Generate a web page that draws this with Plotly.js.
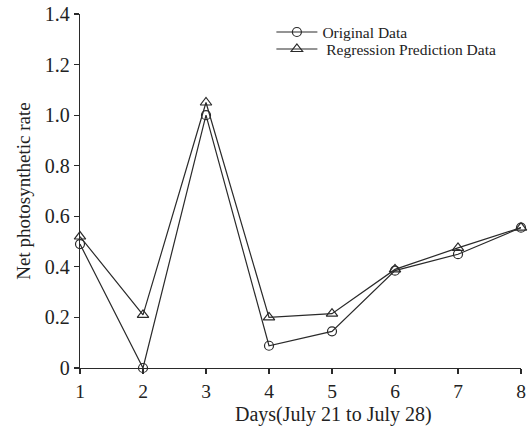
<!DOCTYPE html>
<html><head><meta charset="utf-8">
<script src="https://cdn.plot.ly/plotly-3.0.1.min.js"></script>
<style>body{margin:0;background:#fff}#c{width:532px;height:427px}</style>
</head><body><div id="c"></div>
<script>
const days = [1, 2, 3, 4, 5, 6, 7, 8];
const originalData = [0.49, 0.0, 1.0, 0.088, 0.145, 0.385, 0.45, 0.555];
const regressionData = [0.52, 0.21, 1.05, 0.2, 0.215, 0.39, 0.475, 0.555];
const yTickVals = [0, 0.2, 0.4, 0.6, 0.8, 1.0, 1.2, 1.4];
const yTickText = ["0", "0.2", "0.4", "0.6", "0.8", "1.0", "1.2", "1.4"];
const xTickVals = [1, 2, 3, 4, 5, 6, 7, 8];
const xTitle = 'Days(July 21 to July 28)';
const yTitle = 'Net photosynthetic rate';

const lineColor = '#2a2a2a';
const traces = [
  {x: days, y: originalData, name: 'Original Data', mode: 'lines+markers',
   legend: 'legend',
   line: {color: lineColor, width: 1.2},
   marker: {symbol: 'circle-open', size: 9, color: lineColor, line: {width: 1.2}},
   cliponaxis: false},
  {x: days, y: regressionData, name: ' Regression Prediction Data', mode: 'lines+markers',
   legend: 'legend2',
   line: {color: lineColor, width: 1.2},
   marker: {symbol: 'triangle-up-open', size: 10, color: lineColor, line: {width: 1.2}},
   cliponaxis: false}
];
const font = {family: '"Liberation Serif", "Times New Roman", serif', color: '#222'};
const legendBase = {xanchor: 'left', yanchor: 'middle', bgcolor: 'rgba(0,0,0,0)',
           font: Object.assign({size: 15.5}, font), itemwidth: 41};
const layout = {
  width: 532, height: 427,
  margin: {l: 80, r: 11, t: 14, b: 59},
  paper_bgcolor: '#fff', plot_bgcolor: '#fff',
  font: Object.assign({size: 20}, font),
  showlegend: true,
  legend: Object.assign({x: 0.434, y: 0.948}, legendBase),
  legend2: Object.assign({x: 0.434, y: 0.9}, legendBase),
  annotations: [{text: xTitle, xref: 'paper', yref: 'paper', x: 0.574, y: -0.132,
                 xanchor: 'center', yanchor: 'middle', showarrow: false,
                 font: Object.assign({size: 20}, font)}],
  xaxis: {range: [1, 8], tickvals: xTickVals, showgrid: false, zeroline: false,
          showline: true, linecolor: lineColor, linewidth: 1.2,
          ticks: 'outside', ticklen: 5, tickcolor: lineColor, tickwidth: 1.2,
          tickfont: Object.assign({size: 19.5}, font)},
  yaxis: {range: [0, 1.4], tickvals: yTickVals, ticktext: yTickText, showgrid: false, zeroline: false,
          showline: true, linecolor: lineColor, linewidth: 1.2,
          ticks: 'outside', ticklen: 5, tickcolor: lineColor, tickwidth: 1.2,
          tickfont: Object.assign({size: 20}, font),
          title: {text: yTitle, font: Object.assign({size: 19}, font), standoff: 9}}
};
Plotly.newPlot('c', traces, layout, {displayModeBar: false, staticPlot: true});
</script></body></html>
